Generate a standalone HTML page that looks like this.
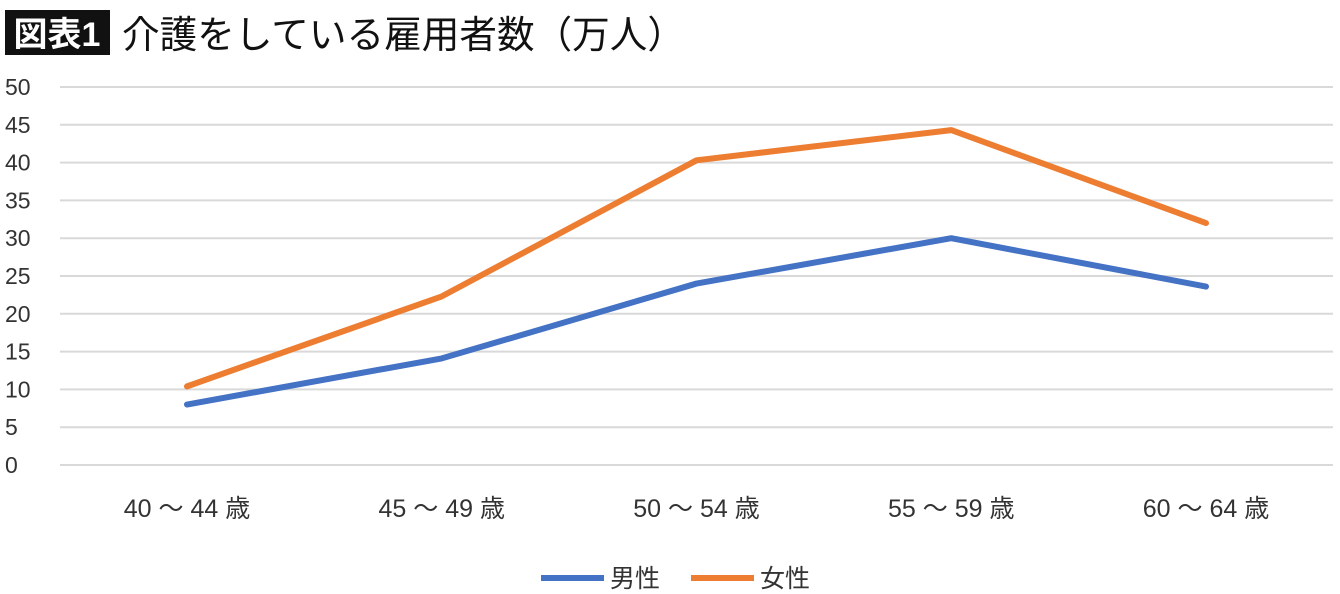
<!DOCTYPE html>
<html><head><meta charset="utf-8"><style>
body{margin:0;background:#fff;width:1340px;height:594px;overflow:hidden}
svg{display:block;font-family:"Liberation Sans","Noto Sans CJK JP",sans-serif}
</style></head><body>
<svg id="c" width="1340" height="594">
<rect x="5" y="10" width="105" height="45" fill="#111"/>
<text x="57" y="46" font-size="34" font-weight="bold" fill="#fff" text-anchor="middle">図表1</text>
<text x="122" y="48" font-size="38" fill="#111" textLength="563" lengthAdjust="spacingAndGlyphs">介護をしている雇用者数（万人）</text>
<g id="grid"></g><g id="series"></g>
<g>
<line x1="541" y1="578" x2="604" y2="578" stroke="#4472c4" stroke-width="6"/>
<text x="610" y="587" font-size="25" fill="#333">男性</text>
<line x1="691" y1="578" x2="754" y2="578" stroke="#ed7d31" stroke-width="6"/>
<text x="760" y="587" font-size="25" fill="#333">女性</text>
</g>
</svg>
<script>
const categories=["40 〜 44 歳","45 〜 49 歳","50 〜 54 歳","55 〜 59 歳","60 〜 64 歳"];
const male=[8,14.1,24,30,23.6];
const female=[10.4,22.3,40.3,44.3,32];
const yTicks=[0,5,10,15,20,25,30,35,40,45,50];
const NS="http://www.w3.org/2000/svg";
const y=v=>465-v*7.56;
const x=i=>187+i*254.75;
function mk(t,a,p){const e=document.createElementNS(NS,t);for(const k in a)e.setAttribute(k,a[k]);p.appendChild(e);return e;}
const g=document.getElementById('grid');
yTicks.forEach(v=>{
 const l=mk('line',{x1:60,x2:1333,y1:y(v),y2:y(v),stroke:'#d9d9d9','stroke-width':2},g);
 
 
 const t=mk('text',{x:5,y:y(v)+8,'font-size':23,fill:'#333'},g);t.textContent=v;
 
 
});
categories.forEach((c,i)=>{
 const t=mk('text',{x:x(i),y:517,'font-size':25,fill:'#333','text-anchor':'middle'},g);t.textContent=c;
 
 
});
const s=document.getElementById('series');
[[male,'#4472c4','male'],[female,'#ed7d31','female']].forEach(([d,col,n])=>{
 const p=mk('polyline',{points:d.map((v,i)=>x(i)+','+y(v)).join(' '),fill:'none',stroke:col,'stroke-width':6,'stroke-linecap':'round','stroke-linejoin':'round'},s);
 
 
});
</script>
</body></html>
